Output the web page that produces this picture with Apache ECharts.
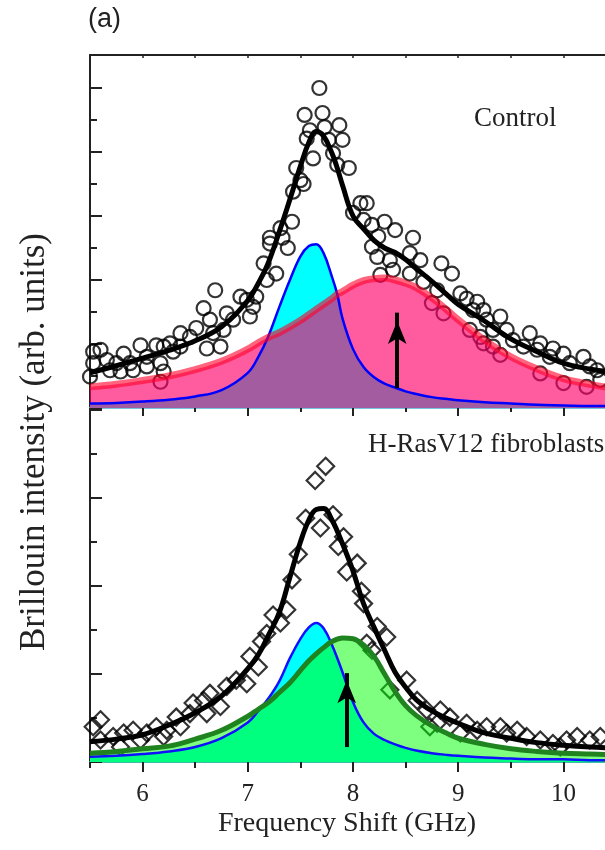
<!DOCTYPE html>
<html>
<head>
<meta charset="utf-8">
<script src="https://cdn.jsdelivr.net/npm/echarts@6/dist/echarts.min.js"></script>
<style>
  html, body { margin: 0; padding: 0; background: #fff; }
  #chart { width: 605px; height: 850px; }
</style>
</head>
<body>
<div id="chart"></div>
<script>
// Axis tick values (frequency in GHz, intensity in arbitrary units)
const freqTicks = [6, 7, 8, 9, 10];
const halfTicks = [5.5, 6.5, 7.5, 8.5, 9.5];
const allFreqTicks = [5.5, 6, 6.5, 7, 7.5, 8, 8.5, 9, 9.5, 10];
const ctrlMajor = [0, 1, 2, 3, 4, 5];
const ctrlMinor = [0.5, 1.5, 2.5, 3.5, 4.5];
const rasMajor = [0, 1, 2, 3, 4];
const rasMinor = [0.5, 1.5, 2.5, 3.5];
// Visible frequency window (the plot runs off the right edge)
const freqMin = 5.5;
const freqMax = 10.395;

// Control cells: fitted components
const freqCtrl = [5.5, 5.75, 6.0, 6.25, 6.5, 6.75, 7.0, 7.1, 7.19, 7.3, 7.4, 7.5, 7.58, 7.65, 7.72, 7.8, 7.85, 7.9, 8.0, 8.1, 8.2, 8.3, 8.4, 8.5, 8.6, 8.75, 8.9, 9.0, 9.25, 9.5, 9.75, 10.0, 10.25, 10.5];
const ctrlNarrow = [0.07, 0.08, 0.10, 0.13, 0.18, 0.28, 0.55, 0.80, 1.10, 1.58, 2.00, 2.37, 2.53, 2.56, 2.42, 2.05, 1.78, 1.40, 0.92, 0.64, 0.48, 0.38, 0.32, 0.26, 0.22, 0.17, 0.14, 0.12, 0.09, 0.07, 0.05, 0.04, 0.03, 0.03];
const ctrlBroad = [0.33, 0.37, 0.43, 0.50, 0.60, 0.73, 0.92, 1.02, 1.10, 1.18, 1.27, 1.37, 1.46, 1.54, 1.62, 1.71, 1.78, 1.82, 1.92, 1.99, 2.02, 2.03, 2.00, 1.95, 1.88, 1.72, 1.52, 1.38, 1.06, 0.80, 0.61, 0.46, 0.37, 0.30];
const ctrlFit = [0.55, 0.66, 0.78, 0.90, 1.05, 1.27, 1.68, 1.95, 2.25, 2.76, 3.26, 3.78, 4.15, 4.32, 4.25, 3.98, 3.75, 3.48, 3.00, 2.80, 2.62, 2.50, 2.43, 2.32, 2.18, 1.98, 1.76, 1.62, 1.36, 1.08, 0.88, 0.70, 0.61, 0.55];

// Control cells: measured spectrum [GHz, intensity]
const ctrlPoints = [
  [7.68, 5.00], [7.54, 4.58], [7.71, 4.61], [7.73, 4.39], [7.87, 4.42], [7.59, 4.34], [7.56, 4.21], [7.77, 4.19],
  [7.62, 3.90], [7.81, 3.98], [7.46, 3.75], [7.50, 3.56], [7.53, 3.50], [7.43, 3.38], [7.42, 2.91], [7.31, 2.81],
  [7.21, 2.66], [7.33, 2.66], [7.90, 4.19], [7.85, 3.80], [7.96, 3.75], [8.07, 3.20], [8.13, 3.20], [8.00, 3.05],
  [8.10, 2.94], [8.18, 2.86], [8.30, 2.91], [8.40, 2.78], [8.57, 2.66], [8.24, 2.68], [8.18, 2.52], [8.23, 2.36],
  [8.35, 2.31], [8.54, 2.42], [8.64, 2.31], [8.84, 2.26], [8.94, 2.10], [8.26, 2.08], [8.38, 2.16], [8.54, 2.10],
  [8.67, 1.97], [8.80, 1.84], [8.75, 1.64], [8.86, 1.48], [9.02, 1.79], [9.08, 1.71], [9.18, 1.66], [9.14, 1.53],
  [9.24, 1.53], [9.40, 1.43], [9.27, 1.38], [9.11, 1.22], [9.21, 1.11], [9.33, 1.22], [9.46, 1.22], [9.52, 1.06],
  [9.68, 1.17], [9.62, 0.96], [9.33, 0.96], [9.40, 0.83], [9.24, 1.01], [9.78, 1.01], [9.75, 0.91], [9.90, 0.93],
  [9.87, 0.80], [10.00, 0.85], [9.78, 0.54], [10.06, 0.70], [10.19, 0.80], [10.25, 0.65], [10.32, 0.59], [10.00, 0.39],
  [10.22, 0.33], [10.35, 0.44],
  [7.38, 2.50], [7.21, 2.57], [7.15, 2.26], [7.27, 2.10], [7.18, 2.00], [7.08, 1.74], [7.05, 1.58], [6.99, 1.69],
  [6.93, 1.74], [7.02, 1.43], [6.69, 1.84], [6.58, 1.56], [6.80, 1.48], [6.86, 1.38], [6.77, 1.22], [6.64, 1.38],
  [6.67, 1.17], [6.51, 1.25], [6.45, 1.11], [6.36, 1.17], [6.61, 0.93], [6.74, 0.96], [6.26, 1.01], [6.20, 0.96],
  [6.13, 0.98], [5.98, 0.98], [5.82, 0.85], [6.04, 0.80], [6.17, 0.70], [5.88, 0.70], [5.75, 0.70], [5.66, 0.75],
  [5.60, 0.91], [5.53, 0.88], [5.53, 0.70], [5.69, 0.59], [5.79, 0.57], [5.91, 0.59], [6.04, 0.65], [6.17, 0.41],
  [6.20, 0.57], [6.29, 0.88], [6.36, 0.96], [5.50, 0.49]
];

// H-RasV12 fibroblasts: fitted components
const freqRas = [5.5, 5.75, 6.0, 6.25, 6.5, 6.75, 7.0, 7.1, 7.2, 7.3, 7.4, 7.5, 7.58, 7.65, 7.72, 7.8, 7.9, 8.0, 8.1, 8.2, 8.3, 8.4, 8.5, 8.6, 8.75, 8.9, 9.0, 9.25, 9.5, 9.75, 10.0, 10.25, 10.5];
const rasNarrow = [0.06, 0.07, 0.09, 0.12, 0.17, 0.27, 0.45, 0.58, 0.73, 0.92, 1.18, 1.40, 1.53, 1.58, 1.52, 1.33, 1.02, 0.68, 0.45, 0.32, 0.25, 0.20, 0.16, 0.13, 0.10, 0.08, 0.07, 0.05, 0.04, 0.03, 0.03, 0.02, 0.02];
const rasBroad = [0.10, 0.12, 0.15, 0.18, 0.26, 0.36, 0.52, 0.60, 0.68, 0.79, 0.90, 1.04, 1.15, 1.23, 1.30, 1.37, 1.41, 1.40, 1.33, 1.20, 1.00, 0.80, 0.64, 0.53, 0.41, 0.32, 0.27, 0.20, 0.15, 0.12, 0.10, 0.09, 0.08];
const rasFit = [0.23, 0.26, 0.31, 0.42, 0.56, 0.75, 1.06, 1.22, 1.45, 1.70, 2.10, 2.50, 2.75, 2.87, 2.88, 2.75, 2.48, 2.17, 1.80, 1.53, 1.27, 1.02, 0.85, 0.71, 0.58, 0.49, 0.44, 0.33, 0.27, 0.22, 0.19, 0.17, 0.16];

// H-RasV12 fibroblasts: measured spectrum [GHz, intensity]
const rasPoints = [
  [7.74, 3.36], [7.64, 3.20], [7.55, 2.77], [7.69, 2.66], [7.81, 2.81], [7.86, 2.45], [7.48, 2.36], [7.42, 2.07],
  [7.91, 2.56], [8.04, 2.26], [7.94, 2.16], [8.08, 1.94], [8.10, 1.80], [8.23, 1.54], [8.32, 1.42], [8.13, 1.35],
  [8.18, 1.27], [8.51, 0.93], [8.35, 0.82], [8.61, 0.70], [8.70, 0.59], [8.83, 0.59], [8.92, 0.51], [8.80, 0.44],
  [9.08, 0.44], [9.18, 0.36], [9.27, 0.40], [9.40, 0.40], [9.46, 0.33], [9.56, 0.36], [9.65, 0.29], [9.78, 0.25],
  [9.90, 0.21], [10.03, 0.25], [10.13, 0.29], [10.25, 0.25], [10.35, 0.29], [9.02, 0.33], [8.73, 0.40], [9.97, 0.17],
  [7.37, 1.73], [7.31, 1.58], [7.24, 1.67], [7.18, 1.46], [7.13, 1.37], [7.02, 1.20], [7.10, 1.08], [6.99, 0.89],
  [6.89, 0.93], [6.80, 0.86], [6.74, 0.63], [6.64, 0.78], [6.58, 0.70], [6.48, 0.67], [6.45, 0.55], [6.61, 0.55],
  [6.32, 0.51], [6.36, 0.40], [6.23, 0.36], [6.13, 0.40], [6.04, 0.33], [5.91, 0.36], [5.82, 0.33], [5.72, 0.29],
  [5.60, 0.48], [5.53, 0.40], [5.60, 0.25], [5.79, 0.17], [5.98, 0.25], [6.20, 0.29]
];

// Shift arrows: [frequency, tail intensity, head intensity]
const ctrlArrow = [8.42, 0.31, 1.54];
const rasArrow = [7.94, 0.17, 1.06];

const SERIF = '"Liberation Serif", "Times New Roman", serif';
const zip = (xs, ys) => xs.map((x, i) => [x, ys[i]]);

// Arrow shaft drawn as a mark line from tail to head
function arrowShaft(a) {
  return {
    silent: true,
    animation: false,
    symbol: ['none', 'none'],
    label: { show: false },
    emphasis: { disabled: true },
    lineStyle: { color: '#000', width: 4, type: 'solid', opacity: 1 },
    data: [[{ coord: [a[0], a[1]] }, { coord: [a[0], a[2] - 0.05] }]]
  };
}

// Arrow head: an upward arrow symbol whose tip sits on the head point
function arrowHead(a, xi, yi) {
  return {
    type: 'scatter', xAxisIndex: xi, yAxisIndex: yi, silent: true, z: 5,
    data: [[a[0], a[2]]],
    symbol: 'arrow', symbolSize: [14, 23], symbolOffset: [0, '50%'],
    itemStyle: { color: '#000', opacity: 1 }
  };
}

function freqAxis(grid, position, extra) {
  return Object.assign({
    type: 'value', gridIndex: grid, position: position, min: freqMin, max: freqMax,
    axisLine: { show: false, onZero: false },
    axisTick: { show: false },
    axisLabel: { show: false },
    splitLine: { show: false }
  }, extra);
}

function intensityAxis(grid, max, extra) {
  return Object.assign({
    type: 'value', gridIndex: grid, position: 'left', min: 0, max: max,
    axisLine: { show: false, onZero: false },
    axisTick: { show: false },
    axisLabel: { show: false },
    splitLine: { show: false }
  }, extra);
}

const chart = echarts.init(document.getElementById('chart'), null, { renderer: 'canvas', width: 605, height: 850 });

const option = {
  animation: false,
  backgroundColor: '#fff',
  grid: [
    { left: 90, right: 0, top: 55, height: 353 },
    { left: 90, right: 0, top: 408, height: 354 }
  ],
  xAxis: [
    // 0: control panel, bottom (panel separator)
    freqAxis(0, 'bottom', { axisLine: { show: true, onZero: false, lineStyle: { color: '#74c6dc', width: 2 } } }),
    // 1: control panel, top frame
    freqAxis(0, 'top', {
      axisLine: { show: true, onZero: false, lineStyle: { color: '#222', width: 2 } },
      axisTick: { show: true, inside: true, length: 3, customValues: allFreqTicks, lineStyle: { color: '#222', width: 1.5 } }
    }),
    // 2: fibroblast panel, bottom with labels
    freqAxis(1, 'bottom', {
      axisLine: { show: true, onZero: false, lineStyle: { color: '#3bbfa8', width: 2 } },
      axisTick: { show: true, inside: false, length: 10, customValues: freqTicks, lineStyle: { color: '#222', width: 2 } },
      axisLabel: {
        show: true, customValues: freqTicks, margin: 32, verticalAlign: 'middle',
        fontFamily: SERIF, fontSize: 25, color: '#222'
      }
    }),
    // 3: fibroblast panel, bottom half-GHz ticks
    freqAxis(1, 'bottom', {
      axisTick: { show: true, inside: false, length: 6, customValues: halfTicks, lineStyle: { color: '#222', width: 2 } }
    }),
    // 4: fibroblast panel, top integer ticks
    freqAxis(1, 'top', {
      axisTick: { show: true, inside: true, length: 8, customValues: freqTicks, lineStyle: { color: '#222', width: 2 } }
    }),
    // 5: fibroblast panel, top half-GHz ticks
    freqAxis(1, 'top', {
      axisTick: { show: true, inside: true, length: 4, customValues: halfTicks, lineStyle: { color: '#222', width: 2 } }
    })
  ],
  yAxis: [
    intensityAxis(0, 5.516, {
      axisLine: { show: true, onZero: false, lineStyle: { color: '#222', width: 2 } },
      axisTick: { show: true, inside: true, length: 12, customValues: ctrlMajor, lineStyle: { color: '#222', width: 2 } }
    }),
    intensityAxis(0, 5.516, {
      axisTick: { show: true, inside: true, length: 7, customValues: ctrlMinor, lineStyle: { color: '#222', width: 2 } }
    }),
    intensityAxis(1, 4.023, {
      axisLine: { show: true, onZero: false, lineStyle: { color: '#222', width: 2 } },
      axisTick: { show: true, inside: true, length: 12, customValues: rasMajor, lineStyle: { color: '#222', width: 2 } }
    }),
    intensityAxis(1, 4.023, {
      axisTick: { show: true, inside: true, length: 7, customValues: rasMinor, lineStyle: { color: '#222', width: 2 } }
    })
  ],
  series: [
    // Control: narrow peak
    {
      type: 'line', xAxisIndex: 0, yAxisIndex: 0, data: zip(freqCtrl, ctrlNarrow),
      smooth: 0.4, showSymbol: false, silent: true,
      lineStyle: { color: '#0000ff', width: 2.5 },
      areaStyle: { color: '#00ffff', opacity: 1 }
    },
    // Control: broad peak (translucent)
    {
      type: 'line', xAxisIndex: 0, yAxisIndex: 0, data: zip(freqCtrl, ctrlBroad),
      smooth: 0.4, showSymbol: false, silent: true,
      lineStyle: { color: 'rgba(255,0,40,0.6)', width: 7 },
      areaStyle: { color: 'rgba(255,0,105,0.64)', opacity: 1 }
    },
    // Control: total fit
    {
      type: 'line', xAxisIndex: 0, yAxisIndex: 0, data: zip(freqCtrl, ctrlFit),
      smooth: 0.4, showSymbol: false, silent: true,
      lineStyle: { color: '#000', width: 5 },
      markLine: arrowShaft(ctrlArrow)
    },
    arrowHead(ctrlArrow, 0, 0),
    // Control: measured points
    {
      type: 'scatter', xAxisIndex: 0, yAxisIndex: 0, data: ctrlPoints,
      symbol: 'circle', symbolSize: 14, silent: true,
      itemStyle: { color: 'rgba(0,0,0,0)', borderColor: '#000', borderWidth: 2.2 }
    },
    // Fibroblasts: narrow peak
    {
      type: 'line', xAxisIndex: 2, yAxisIndex: 2, data: zip(freqRas, rasNarrow),
      smooth: 0.4, showSymbol: false, silent: true,
      lineStyle: { color: '#1010ff', width: 2.5 },
      areaStyle: { color: '#00ffff', opacity: 1 }
    },
    // Fibroblasts: broad peak (translucent)
    {
      type: 'line', xAxisIndex: 2, yAxisIndex: 2, data: zip(freqRas, rasBroad),
      smooth: 0.4, showSymbol: false, silent: true,
      lineStyle: { color: '#1f841f', width: 5 },
      areaStyle: { color: 'rgba(0,255,0,0.5)', opacity: 1 }
    },
    // Fibroblasts: total fit
    {
      type: 'line', xAxisIndex: 2, yAxisIndex: 2, data: zip(freqRas, rasFit),
      smooth: 0.4, showSymbol: false, silent: true,
      lineStyle: { color: '#000', width: 5 },
      markLine: arrowShaft(rasArrow)
    },
    arrowHead(rasArrow, 2, 2),
    // Fibroblasts: measured points
    {
      type: 'scatter', xAxisIndex: 2, yAxisIndex: 2, data: rasPoints,
      symbol: 'diamond', symbolSize: 17, silent: true,
      itemStyle: { color: 'rgba(0,0,0,0)', borderColor: '#000', borderWidth: 2.2 }
    }
  ],
  graphic: [
    {
      type: 'text', left: 88, top: 6,
      style: { text: '(a)', fontFamily: '"Liberation Sans", Arial, sans-serif', fontSize: 27, fill: '#222' }
    },
    {
      type: 'text', x: 474, y: 119,
      style: { text: 'Control', fontFamily: SERIF, fontSize: 27, fill: '#222', verticalAlign: 'middle', align: 'left' }
    },
    {
      type: 'text', x: 368, y: 445,
      style: { text: 'H-RasV12 fibroblasts', fontFamily: SERIF, fontSize: 27, fill: '#222', verticalAlign: 'middle', align: 'left' }
    },
    {
      type: 'text', x: 347, y: 824,
      style: { text: 'Frequency Shift (GHz)', fontFamily: SERIF, fontSize: 28, fill: '#222', verticalAlign: 'middle', align: 'center' }
    },
    {
      type: 'text', x: 35, y: 442, rotation: Math.PI / 2,
      style: { text: 'Brillouin intensity (arb. units)', fontFamily: SERIF, fontSize: 35, fill: '#222', verticalAlign: 'middle', align: 'center' }
    }
  ]
};

chart.setOption(option);
</script>
</body>
</html>
